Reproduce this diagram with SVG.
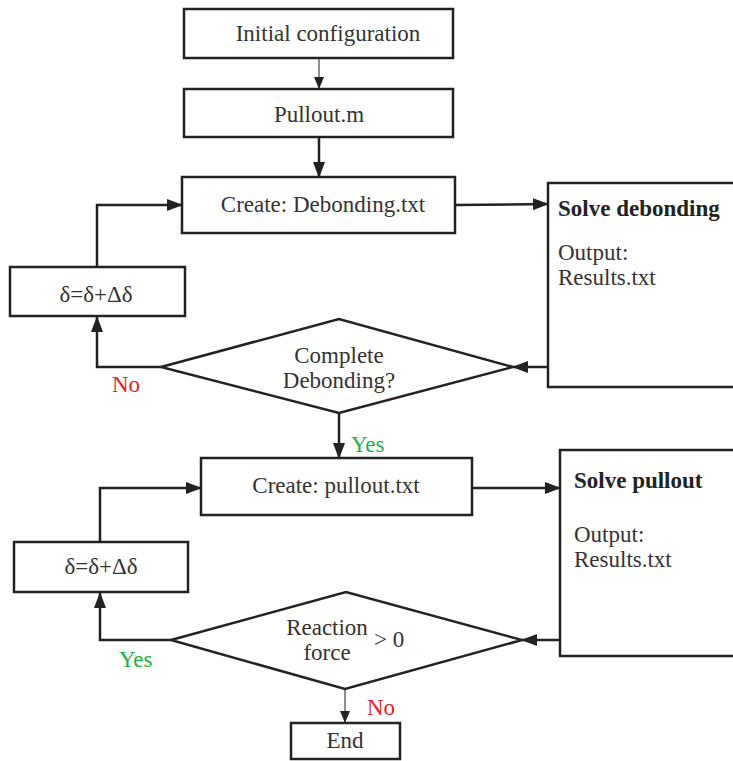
<svg xmlns="http://www.w3.org/2000/svg" width="733" height="761" viewBox="0 0 733 761">
<style>
.box{fill:#fff;stroke:#222;stroke-width:2.5}
.t{font-family:"Liberation Serif","Times New Roman",serif;font-size:23px;fill:#333}
.b{font-weight:bold;fill:#222}
.c{fill:none;stroke:#222;stroke-width:2.5}
.thin{fill:none;stroke:#444;stroke-width:1.2}
.red{fill:#e8202a}
.green{fill:#22b24c}
</style>
<defs>
<marker id="ah" markerUnits="userSpaceOnUse" markerWidth="16" markerHeight="12" refX="15" refY="6" orient="auto">
<path d="M0,0 L16,6 L0,12 z" fill="#222"/>
</marker>
<marker id="ahs" markerUnits="userSpaceOnUse" markerWidth="12" markerHeight="10" refX="12" refY="5" orient="auto">
<path d="M0,0 L12,5 L0,10 z" fill="#222"/>
</marker>
</defs>
<rect width="733" height="761" fill="#fff"/>
<g id="connectors">
<line class="thin" x1="319" y1="58" x2="319" y2="89" marker-end="url(#ahs)"/>
<line class="c" x1="319" y1="137" x2="319" y2="177" marker-end="url(#ah)"/>
<line class="c" x1="455" y1="205" x2="548" y2="204" marker-end="url(#ah)"/>
<line class="c" x1="548" y1="367" x2="513" y2="367" marker-end="url(#ah)"/>
<polyline class="c" points="161,367 97,367 97,317" marker-end="url(#ah)"/>
<polyline class="c" points="97,267 97,205 182,205" marker-end="url(#ah)"/>
<line class="c" x1="339" y1="413" x2="339" y2="458" marker-end="url(#ah)"/>
<line class="c" x1="472" y1="488" x2="560" y2="488" marker-end="url(#ah)"/>
<line class="c" x1="560" y1="640" x2="522" y2="640" marker-end="url(#ah)"/>
<polyline class="c" points="171,640 100,640 100,593" marker-end="url(#ah)"/>
<polyline class="c" points="100,542 100,488 201,488" marker-end="url(#ah)"/>
<line class="thin" x1="345" y1="689" x2="345" y2="723" marker-end="url(#ahs)"/>
<text class="t red" x="112" y="392">No</text>
<text class="t green" x="351" y="452">Yes</text>
<text class="t green" x="119" y="667">Yes</text>
<text class="t red" x="367" y="715">No</text>
</g>
<g id="initial">
<rect class="box" x="184" y="9" width="269" height="49"/>
<text class="t" x="328" y="41" text-anchor="middle">Initial configuration</text>
</g>
<g id="pulloutm">
<rect class="box" x="184" y="89" width="269" height="48"/>
<text class="t" x="319" y="122" text-anchor="middle">Pullout.m</text>
</g>
<g id="create-debonding">
<rect class="box" x="182" y="177" width="273" height="56"/>
<text class="t" x="323" y="212" text-anchor="middle">Create: Debonding.txt</text>
</g>
<g id="solve-debonding">
<rect class="box" x="548" y="183" width="192" height="204"/>
<text class="t b" x="558" y="216">Solve debonding</text>
<text class="t" x="558" y="260">Output:</text>
<text class="t" x="558" y="285">Results.txt</text>
</g>
<g id="delta1">
<rect class="box" x="10" y="267" width="175" height="49"/>
<text class="t" x="96" y="302" text-anchor="middle">δ=δ+Δδ</text>
</g>
<g id="decision1">
<polygon class="box" points="161,367 339,319 513,367 339,413"/>
<text class="t" x="339" y="363" text-anchor="middle">Complete</text>
<text class="t" x="339" y="388" text-anchor="middle">Debonding?</text>
</g>
<g id="create-pullout">
<rect class="box" x="201" y="458" width="271" height="57"/>
<text class="t" x="336" y="493" text-anchor="middle">Create: pullout.txt</text>
</g>
<g id="solve-pullout">
<rect class="box" x="560" y="450" width="180" height="206"/>
<text class="t b" x="574" y="488">Solve pullout</text>
<text class="t" x="574" y="542">Output:</text>
<text class="t" x="574" y="567">Results.txt</text>
</g>
<g id="delta2">
<rect class="box" x="14" y="542" width="174" height="50"/>
<text class="t" x="101" y="574" text-anchor="middle">δ=δ+Δδ</text>
</g>
<g id="decision2">
<polygon class="box" points="171,640 346,592 522,640 345,689"/>
<text class="t" x="327" y="635" text-anchor="middle">Reaction</text>
<text class="t" x="327" y="660" text-anchor="middle">force</text>
<text class="t" x="374" y="647">&gt; 0</text>
</g>
<g id="end">
<rect class="box" x="291" y="723" width="109" height="36"/>
<text class="t" x="345" y="748" text-anchor="middle">End</text>
</g>
</svg>
